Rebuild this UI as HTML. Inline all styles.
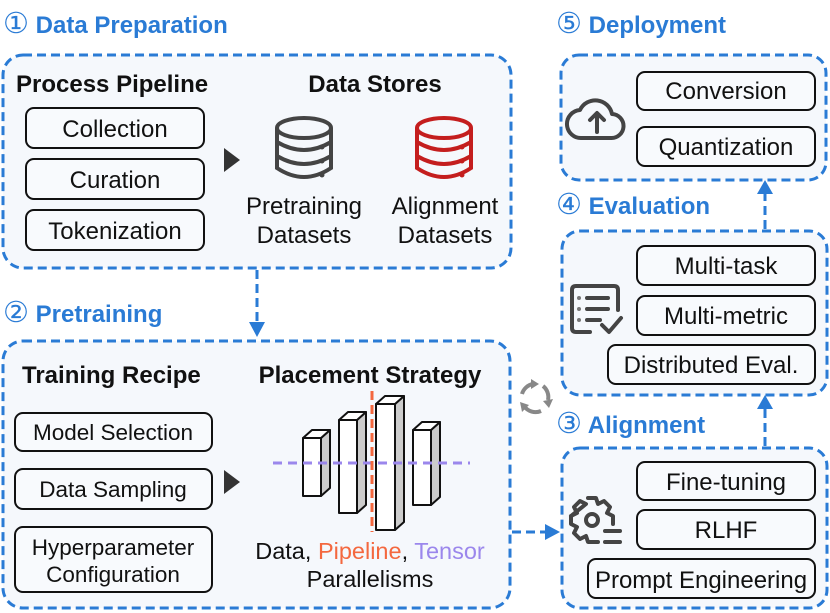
<!DOCTYPE html>
<html><head><meta charset="utf-8"><style>
html,body{margin:0;padding:0;background:#fff;}
svg{display:block;font-family:"Liberation Sans",Arial,sans-serif;}
</style></head><body>
<svg width="830" height="613" viewBox="0 0 830 613" xmlns="http://www.w3.org/2000/svg">
<g fill="#f5f8fc" stroke="#2a7bd5" stroke-width="3" stroke-dasharray="9,5">
<rect x="3" y="55" width="508" height="213" rx="20"/>
<rect x="3" y="341" width="507" height="267" rx="20"/>
<rect x="561" y="55" width="265" height="125" rx="18"/>
<rect x="562" y="231" width="265" height="164" rx="18"/>
<rect x="562" y="448" width="265" height="160" rx="18"/>
</g>
<g stroke="#2a7bd5" stroke-width="3" stroke-dasharray="9,5" fill="none">
<path d="M257,270 V322"/>
<path d="M512,532 H546"/>
<path d="M765,446 V408"/>
<path d="M765,229 V193"/>
</g>
<path d="M249,322 L265,322 L257,337 z" fill="#2a7bd5"/>
<path d="M545,524 L545,540 L560,532 z" fill="#2a7bd5"/>
<path d="M757,409 L773,409 L765,395 z" fill="#2a7bd5"/>
<path d="M757,194 L773,194 L765,180 z" fill="#2a7bd5"/>
<g fill="#2a7bd5" font-weight="bold" font-size="24">
<text x="3" y="33"><tspan font-weight="normal" font-family="Liberation Serif,DejaVu Serif,serif" font-size="29">①</tspan> Data Preparation</text>
<text x="3" y="322"><tspan font-weight="normal" font-family="Liberation Serif,DejaVu Serif,serif" font-size="29">②</tspan> Pretraining</text>
<text x="556" y="33"><tspan font-weight="normal" font-family="Liberation Serif,DejaVu Serif,serif" font-size="29">⑤</tspan> Deployment</text>
<text x="556" y="214"><tspan font-weight="normal" font-family="Liberation Serif,DejaVu Serif,serif" font-size="29">④</tspan> Evaluation</text>
<text x="556" y="433"><tspan font-weight="normal" font-family="Liberation Serif,DejaVu Serif,serif" font-size="29">③</tspan> Alignment</text>
</g>
<g fill="#111" font-weight="bold" font-size="24">
<text x="16" y="92">Process Pipeline</text>
<text x="375" y="92" text-anchor="middle">Data Stores</text>
<text x="22" y="383">Training Recipe</text>
<text x="370" y="383" text-anchor="middle">Placement Strategy</text>
</g>
<g fill="#f8fafd" stroke="#111" stroke-width="2">
<rect x="26" y="108" width="178" height="40" rx="8"/>
<rect x="26" y="159" width="178" height="40" rx="8"/>
<rect x="26" y="210" width="178" height="40" rx="8"/>
<rect x="15" y="413" width="197" height="38" rx="8"/>
<rect x="15" y="469" width="197" height="40" rx="8"/>
<rect x="15" y="527" width="197" height="65" rx="8"/>
<rect x="637" y="72" width="178" height="38" rx="8"/>
<rect x="637" y="127" width="178" height="39" rx="8"/>
<rect x="637" y="246" width="178" height="39" rx="8"/>
<rect x="637" y="296" width="178" height="39" rx="8"/>
<rect x="608" y="345" width="207" height="39" rx="8"/>
<rect x="637" y="462" width="178" height="38" rx="8"/>
<rect x="637" y="510" width="178" height="39" rx="8"/>
<rect x="588" y="559" width="227" height="39" rx="8"/>
</g>
<g fill="#111" font-size="24" text-anchor="middle">
<text x="115" y="137">Collection</text>
<text x="115" y="188">Curation</text>
<text x="115" y="239">Tokenization</text>
<text x="304" y="214">Pretraining</text>
<text x="304" y="243">Datasets</text>
<text x="445" y="214">Alignment</text>
<text x="445" y="243">Datasets</text>
<text x="113" y="440" font-size="22.5">Model Selection</text>
<text x="113" y="497" font-size="22.5">Data Sampling</text>
<text x="113" y="555" font-size="22.5">Hyperparameter</text>
<text x="113" y="582" font-size="22.5">Configuration</text>
<text x="726" y="99">Conversion</text>
<text x="726" y="155">Quantization</text>
<text x="726" y="274">Multi-task</text>
<text x="726" y="324">Multi-metric</text>
<text x="711" y="373">Distributed Eval.</text>
<text x="726" y="490">Fine-tuning</text>
<text x="726" y="538">RLHF</text>
<text x="701" y="588">Prompt Engineering</text>
<text x="370" y="559" font-size="23.5">Data, <tspan fill="#f4683f">Pipeline</tspan>, <tspan fill="#9b87ec">Tensor</tspan></text>
<text x="370" y="587" font-size="23.5">Parallelisms</text>
</g>
<path d="M224,148 L240,160 L224,172 z" fill="#333"/>
<path d="M224,470 L240,482 L224,494 z" fill="#333"/>
<g fill="none" stroke-width="4">
<g stroke="#444">
<ellipse cx="304" cy="128" rx="27" ry="10"/>
<path d="M277,128 V168 Q304,186 331,168 V128 M277,142 Q304,158 331,142 M277,156 Q304,172 331,156"/>
</g>
<g stroke="#c41e1e">
<ellipse cx="444" cy="128" rx="27" ry="10"/>
<path d="M417,128 V168 Q444,186 471,168 V128 M417,142 Q444,158 471,142 M417,156 Q444,172 471,156"/>
</g>
</g>
<g fill="#444"><circle cx="322" cy="147" r="2.5"/><circle cx="322" cy="161" r="2.5"/><circle cx="322" cy="175" r="2.5"/></g>
<g fill="#c41e1e"><circle cx="462" cy="147" r="2.5"/><circle cx="462" cy="161" r="2.5"/><circle cx="462" cy="175" r="2.5"/></g>
<g stroke="#111" stroke-width="2" stroke-linejoin="round">
<g><path d="M321,438 L330,430 V488 L321,496 z" fill="#ccc"/><path d="M303,438 L312,430 H330 L321,438 z" fill="#fff"/><rect x="303" y="438" width="18" height="58" fill="#fff"/></g>
<g><path d="M357,420 L366,412 V505 L357,513 z" fill="#ccc"/><path d="M339,420 L348,412 H366 L357,420 z" fill="#fff"/><rect x="339" y="420" width="18" height="93" fill="#fff"/></g>
<g><path d="M395,404 L404,396 V522 L395,530 z" fill="#ccc"/><path d="M376,404 L385,396 H404 L395,404 z" fill="#fff"/><rect x="376" y="404" width="19" height="126" fill="#fff"/></g>
<g><path d="M431,430 L440,422 V497 L431,505 z" fill="#ccc"/><path d="M413,430 L422,422 H440 L431,430 z" fill="#fff"/><rect x="413" y="430" width="18" height="75" fill="#fff"/></g>
</g>
<path d="M273,463 H470" stroke="#9b87ec" stroke-width="3" stroke-dasharray="9,6"/>
<path d="M372,391 V532" stroke="#f4683f" stroke-width="3" stroke-dasharray="9,5"/>
<g fill="none" stroke="#888" stroke-width="4">
<path d="M522,394 A14,14 0 0 1 533,384"/>
<path d="M543,386 A14,14 0 0 1 548,400"/>
<path d="M541,411 A14,14 0 0 1 524,406"/>
</g>
<g fill="#888">
<path d="M531,379 L539,384 L531,389 z"/>
<path d="M543,401 L553,399 L549,408 z"/>
<path d="M520,402 L522,412 L529,405 z"/>
</g>
<g fill="none" stroke="#444" stroke-width="4" stroke-linecap="round" stroke-linejoin="round">
<path d="M582,138 H611 A12,12 0 0 0 612,114 A17,17 0 0 0 580,110 A14,14 0 0 0 582,138"/>
<path d="M597,132 V114 M590,120 L597,113 L604,120"/>
<path d="M590,332 H576 Q572,332 572,328 V290 Q572,286 576,286 H614 Q618,286 618,290 V310"/>
<path d="M587,298 H608 M587,309 H608 M587,320 H600"/>
<path d="M602,325 L609,332 L621,318"/>
<circle cx="592" cy="520" r="6"/>
<path d="M588,498 H596 L598,504 L604,501 L610,507 L607,513 L613,516 V524 M571,516 L577,513 L574,507 L580,501 L586,504 Z M571,516 V524 L577,527 L574,533 L580,539 L586,536 L588,542 H598"/>
<path d="M605,531 H620 M605,542 H620"/>
</g>
<g fill="#777"><circle cx="579" cy="298" r="2"/><circle cx="579" cy="309" r="2"/><circle cx="579" cy="320" r="2"/></g>
</svg>
</body></html>
